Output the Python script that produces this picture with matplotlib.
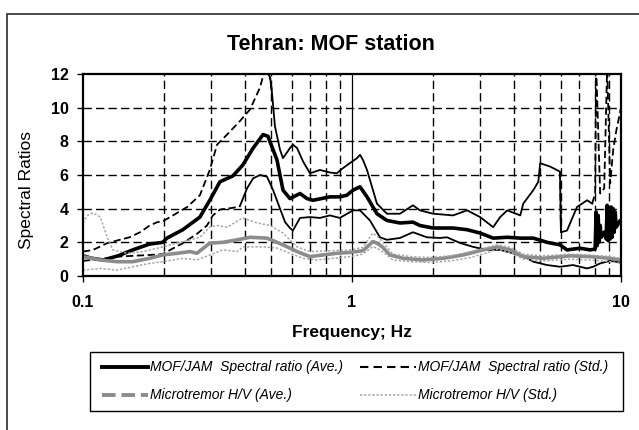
import numpy as np
import matplotlib
matplotlib.use("Agg")
import matplotlib.pyplot as plt
from matplotlib.lines import Line2D
from matplotlib.patches import Rectangle

plt.rcParams['font.family'] = ['Liberation Sans', 'DejaVu Sans']

# MOF/JAM spectral ratio, average
mof_ave_f = [0.100, 0.108, 0.119, 0.135, 0.153, 0.177, 0.198, 0.205, 0.235, 0.272, 0.296,
             0.323, 0.361, 0.393, 0.429, 0.467, 0.487, 0.526, 0.554, 0.588, 0.641, 0.680,
             0.716, 0.827, 0.901, 0.957, 1.009, 1.071, 1.137, 1.238, 1.348, 1.508, 1.685,
             1.789, 2.000, 2.375, 2.679, 2.995, 3.348, 3.777, 4.222, 4.721, 5.314, 5.933,
             6.300, 7.041, 7.678, 8.015, 8.084, 8.154, 8.224, 8.295, 8.366, 8.44, 8.66,
             8.807, 8.883, 8.960, 9.04, 9.116, 9.194, 9.27, 9.354, 9.434, 9.515, 9.597,
             9.934, 10.0]
mof_ave = [1.2, 1.05, 0.95, 1.2, 1.55, 1.9, 2.0, 2.25, 2.75, 3.5, 4.5,
           5.6, 5.95, 6.6, 7.6, 8.4, 8.3, 6.9, 5.1, 4.6, 4.9, 4.6,
           4.5, 4.7, 4.7, 4.8, 5.1, 5.3, 4.7, 3.7, 3.3, 3.15, 3.2,
           3.0, 2.85, 2.85, 2.75, 2.55, 2.25, 2.3, 2.25, 2.25, 2.0, 1.85,
           1.55, 1.65, 1.55, 1.6, 3.8, 1.8, 3.6, 2.0, 3.0, 2.3, 2.6,
           2.2, 4.2, 2.1, 4.0, 2.2, 4.1, 2.3, 4.0, 2.6, 3.8, 2.9,
           3.3, 3.3]

# MOF/JAM spectral ratio, ave + std
mof_hi_f = [0.100, 0.109, 0.123, 0.137, 0.149, 0.163, 0.177, 0.189, 0.198, 0.216, 0.244,
            0.272, 0.296, 0.315, 0.343, 0.383, 0.418, 0.455, 0.475, 0.496, 0.504, 0.517,
            0.540, 0.554, 0.588, 0.603, 0.625, 0.658, 0.698, 0.760, 0.827, 0.878, 0.924,
            0.981, 1.044, 1.071, 1.098, 1.137, 1.238, 1.348, 1.508, 1.685, 1.789, 2.000,
            2.375, 2.679, 2.995, 3.348, 3.554, 3.777, 4.222, 4.331, 4.721, 4.928, 5.005,
            5.452, 5.933, 5.98, 6.300, 6.863, 7.481, 7.812, 8.015, 8.084, 8.366, 8.66,
            8.883, 9.116, 9.354, 9.597, 10.0]
mof_hi = [1.45, 1.55, 1.95, 2.15, 2.3, 2.6, 3.0, 3.2, 3.25, 3.6, 4.1,
          4.8, 6.3, 7.8, 8.4, 9.2, 9.9, 11.2, 12.3, 11.8, 10.9, 8.9,
          7.5, 7.0, 7.6, 7.8, 7.6, 6.8, 6.1, 6.3, 6.15, 6.1, 6.4,
          6.7, 7.0, 7.2, 6.9, 6.3, 4.3, 3.7, 3.7, 4.2, 3.9, 3.7,
          3.6, 3.9, 3.5, 2.9, 3.5, 3.9, 3.6, 4.3, 5.1, 5.6, 6.7,
          6.5, 6.2, 2.6, 2.7, 4.1, 4.5, 4.3, 4.9, 12.5, 4.9, 5.2,
          12.5, 5.5, 7.5, 8.6, 10.0]

# MOF/JAM spectral ratio, ave - std
mof_lo_f = [0.100, 0.116, 0.134, 0.177, 0.198, 0.211, 0.235, 0.265, 0.289, 0.304, 0.323,
            0.361, 0.383, 0.407, 0.429, 0.455, 0.483, 0.509, 0.540, 0.564, 0.588, 0.603,
            0.641, 0.698, 0.760, 0.827, 0.901, 1.009, 1.071, 1.166, 1.270, 1.348, 1.508,
            1.685, 1.899, 2.125, 2.256, 2.523, 2.821, 3.179, 3.554, 3.975, 4.483, 4.721,
            5.314, 5.933, 6.631, 7.481, 7.879, 8.366, 9.116, 10.0]
mof_lo = [0.9, 1.0, 1.15, 1.25, 1.3, 1.55, 1.95, 2.5, 3.0, 3.6, 3.95,
          4.05, 4.15, 5.2, 5.8, 6.0, 5.9, 5.1, 4.0, 3.2, 2.85, 2.7,
          3.45, 3.5, 3.45, 3.6, 3.45, 3.9, 3.9, 3.3, 2.3, 2.15, 2.26,
          2.6, 2.3, 2.26, 2.3, 1.96, 1.73, 1.55, 1.55, 1.35, 1.05, 0.85,
          0.65, 0.55, 0.65, 0.45, 0.55, 0.75, 0.9, 0.8]

# Microtremor H/V, average
hv_ave_f = [0.100, 0.116, 0.134, 0.153, 0.177, 0.198, 0.224, 0.250, 0.265, 0.296, 0.331,
            0.374, 0.418, 0.483, 0.554, 0.625, 0.698, 0.779, 0.878, 0.981, 1.098, 1.152,
            1.196, 1.254, 1.303, 1.383, 1.547, 1.835, 2.180, 2.588, 3.072, 3.465, 3.875,
            4.331, 5.134, 6.463, 7.678, 9.116, 10.0]
hv_ave = [1.15, 0.95, 0.85, 0.85, 1.05, 1.25, 1.35, 1.45, 1.35, 1.95, 2.0,
          2.15, 2.3, 2.25, 1.85, 1.45, 1.15, 1.25, 1.35, 1.4, 1.5, 1.8,
          2.05, 1.9, 1.7, 1.25, 1.05, 0.95, 1.05, 1.25, 1.55, 1.73, 1.55,
          1.15, 1.05, 1.2, 1.15, 1.05, 0.95]

# Microtremor H/V, ave +/- std
hv_hi_f = [0.100, 0.104, 0.109, 0.116, 0.123, 0.129, 0.146, 0.167, 0.198, 0.224, 0.272,
           0.296, 0.315, 0.343, 0.393, 0.444, 0.496, 0.554, 0.625, 0.698, 0.827, 0.981,
           1.098, 1.152, 1.196, 1.254, 1.336, 1.419, 1.657, 1.962, 2.326, 2.764, 3.285,
           3.465, 3.875, 4.331, 5.134, 6.463, 7.678, 9.116, 10.0]
hv_hi = [3.15, 3.6, 3.75, 3.5, 2.3, 1.55, 1.35, 1.45, 1.73, 1.96, 2.3,
         2.9, 3.0, 2.9, 3.45, 3.15, 3.0, 2.55, 1.73, 1.45, 1.5, 1.55,
         1.7, 2.2, 2.55, 2.3, 1.8, 1.3, 1.15, 1.1, 1.2, 1.45, 1.75,
         1.85, 1.7, 1.3, 1.2, 1.3, 1.25, 1.15, 1.05]
hv_lo_f = [0.100, 0.116, 0.134, 0.153, 0.177, 0.198, 0.235, 0.265, 0.296, 0.331, 0.374,
           0.393, 0.467, 0.526, 0.588, 0.657, 0.741, 0.849, 0.981, 1.098, 1.152, 1.196,
           1.254, 1.336, 1.419, 1.657, 1.962, 2.326, 2.764, 3.285, 3.465, 3.875, 4.331,
           5.134, 6.463, 7.678, 9.116, 10.0]
hv_lo = [0.35, 0.45, 0.35, 0.55, 0.75, 0.85, 1.05, 0.95, 1.25, 1.55, 1.45,
         1.73, 1.73, 1.66, 1.35, 1.05, 0.95, 1.05, 1.15, 1.3, 1.55, 1.75,
         1.6, 1.3, 0.95, 0.85, 0.8, 0.9, 1.1, 1.45, 1.6, 1.4, 1.0,
         0.9, 1.0, 0.95, 0.85, 0.75]

y_ticks = [0, 2, 4, 6, 8, 10, 12]
x_ticks = [0.1, 1, 10]
x_ticklabels = ['0.1', '1', '10']

W, H = 639.0, 430.0
def fx(px):
    return px / W
def fy(py):
    return 1 - py / H

fig = plt.figure(figsize=(6.39, 4.30), dpi=100)
fig.patches.append(Rectangle((fx(7), -0.2), 1.2, fy(14) + 0.2, transform=fig.transFigure,
                             fill=False, edgecolor='#3a3a3a', lw=1.3))

ax = fig.add_axes([fx(83), fy(276), fx(621) - fx(83), fy(74) - fy(276)])
ax.set_xscale('log')
ax.set_xlim(0.1, 10)
ax.set_ylim(0, 12)

# grid
for v in [2, 3, 4, 5, 6, 7, 8, 9]:
    ax.axvline(v * 0.1, color='k', lw=1.0, ls=(0, (6, 3)), zorder=1)
    ax.axvline(v * 1.0, color='k', lw=1.0, ls=(0, (6, 3)), zorder=1)
ax.axvline(1, color='k', lw=0.9, zorder=1)
for v in y_ticks[1:-1]:
    ax.axhline(v, color='k', lw=1.0, ls=(0, (6, 3)), zorder=1)

# MOF/JAM
f = np.array(mof_ave_f)
ax.plot(f, mof_ave, color='k', lw=2.6, zorder=4, solid_joinstyle='round')

fh = np.array(mof_hi_f)
vh = np.array(mof_hi)
solid = ((fh >= 0.496) & (fh <= 5.933)) | ((fh >= 5.98) & (fh <= 7.812))
dash = (fh <= 0.504) | ((fh >= 5.933) & (fh <= 5.98)) | (fh >= 7.812)
ax.plot(fh, np.where(solid, vh, np.nan), color='k', lw=1.3, zorder=3)
ax.plot(fh, np.where(dash, vh, np.nan), color='k', lw=1.3, ls=(0, (4, 2)), zorder=3)

fl = np.array(mof_lo_f)
vl = np.array(mof_lo)
solid = fl >= 0.383
dash = fl <= 0.383
ax.plot(fl, np.where(solid, vl, np.nan), color='k', lw=1.3, zorder=3)
ax.plot(fl, np.where(dash, vl, np.nan), color='k', lw=1.3, ls=(0, (4, 2)), zorder=3)

# Microtremor H/V
ax.plot(hv_ave_f, hv_ave, color='#8c8c8c', lw=2.6, zorder=5)
ax.plot(hv_hi_f, hv_hi, color='#a6a6a6', lw=1.1, ls=(0, (1.5, 1.2)), zorder=5)
ax.plot(hv_lo_f, hv_lo, color='#a6a6a6', lw=1.1, ls=(0, (1.5, 1.2)), zorder=5)

for s in ax.spines.values():
    s.set_linewidth(1.6)
    s.set_zorder(6)
ax.set_yticks(y_ticks)
ax.set_xticks(x_ticks)
ax.set_xticklabels(x_ticklabels)
ax.xaxis.set_minor_locator(matplotlib.ticker.NullLocator())
ax.tick_params(axis='both', direction='out', length=4.5, width=1.0, labelsize=11.5)
ax.tick_params(axis='x', pad=9)
ax.tick_params(axis='y', pad=6)
for t in ax.get_xticklabels() + ax.get_yticklabels():
    t.set_fontweight('bold')

fig.text(fx(331), fy(44), 'Tehran: MOF station', ha='center', va='center',
         fontsize=15.5, fontweight='bold')
fig.text(fx(27), fy(190), 'Spectral Ratios', rotation=90, ha='center', va='center',
         fontsize=12.5)
fig.text(fx(352), fy(333), 'Frequency; Hz', ha='center', va='center',
         fontsize=12.5, fontweight='bold')

# legend box
lx0, lx1, ly0, ly1 = 90, 623, 352, 411
fig.patches.append(Rectangle((fx(lx0), fy(ly1)), fx(lx1) - fx(lx0), fy(ly0) - fy(ly1),
                             transform=fig.transFigure, fill=False, edgecolor='k', lw=1.0))
rows = [367, 395]
fig.lines.append(Line2D([fx(102), fx(148)], [fy(rows[0])] * 2, transform=fig.transFigure,
                        color='k', lw=2.8))
fig.lines.append(Line2D([fx(360), fx(416)], [fy(rows[0])] * 2, transform=fig.transFigure,
                        color='k', lw=1.5, ls=(0, (4, 2.5))))
fig.lines.append(Line2D([fx(102), fx(148)], [fy(rows[1])] * 2, transform=fig.transFigure,
                        color='#8c8c8c', lw=2.8, ls=(0, (3.5, 1.5))))
fig.lines.append(Line2D([fx(360), fx(416)], [fy(rows[1])] * 2, transform=fig.transFigure,
                        color='#a6a6a6', lw=1.1, ls=(0, (1.5, 1.2))))
leg_txt = [('MOF/JAM  Spectral ratio (Ave.)', 150, rows[0]),
           ('MOF/JAM  Spectral ratio (Std.)', 418, rows[0]),
           ('Microtremor H/V (Ave.)', 150, rows[1]),
           ('Microtremor H/V (Std.)', 418, rows[1])]
for s, x, y in leg_txt:
    fig.text(fx(x), fy(y), s, ha='left', va='center', fontsize=10, style='italic')

fig.savefig('out.png', dpi=100)
